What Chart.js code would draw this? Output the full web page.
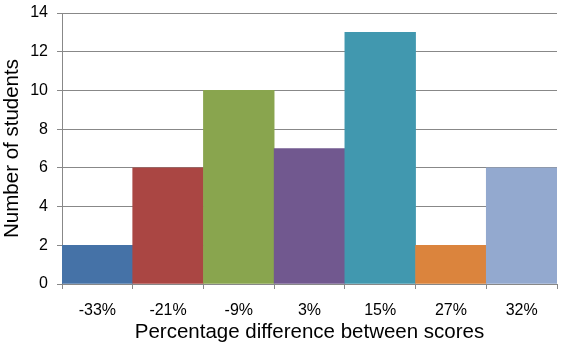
<!DOCTYPE html>
<html>
<head>
<meta charset="utf-8">
<script src="https://cdn.jsdelivr.net/npm/chart.js@4/dist/chart.umd.min.js"></script>
<style>
  html, body { margin: 0; padding: 0; background: #fff; }
  #wrap { width: 565px; height: 351px; }
</style>
</head>
<body>
<div id="wrap"><canvas id="myChart" width="565" height="351"></canvas></div>
<script>
// data
const categories = ['-33%', '-21%', '-9%', '3%', '15%', '27%', '32%'];
const students = [2, 6, 10, 7, 13, 2, 6];
const barColors = ['#4572A7', '#AA4643', '#89A54E', '#71588F', '#4198AF', '#DB843D', '#93A9CF'];
const yTicks = [0, 2, 4, 6, 8, 10, 12, 14];

const font = "'Liberation Sans', Arial, sans-serif";

const ctx = document.getElementById('myChart').getContext('2d');
const myChart = new Chart(ctx, {
  type: 'bar',
  data: {
    labels: categories,
    datasets: [{
      data: students,
      backgroundColor: barColors,
      borderWidth: 0,
      barPercentage: 1,
      categoryPercentage: 1
    }]
  },
  options: {
    responsive: false,
    animation: false,
    layout: { padding: { top: 13, right: 8, left: 0, bottom: 0 } },
    plugins: { legend: { display: false }, tooltip: { enabled: false } },
    scales: {
      x: {
        grid: { display: true, offset: true, drawOnChartArea: false, drawTicks: true, tickLength: 5, color: '#888' },
        border: { display: true, color: '#888' },
        ticks: { color: '#000', font: { family: font, size: 16 }, padding: 12, maxRotation: 0 },
        title: { display: true, text: 'Percentage difference between scores', color: '#000', font: { family: font, size: 20.5 }, padding: { top: 0, bottom: 6 } },
        afterFit: s => { s.height = 67; s.paddingLeft = 0; s.paddingRight = 0; }
      },
      y: {
        min: 0,
        max: 14,
        afterBuildTicks: s => { s.ticks = yTicks.map(v => ({ value: v })); },
        grid: { color: '#888', tickLength: 5 },
        border: { display: true, color: '#888' },
        ticks: { color: '#000', font: { family: font, size: 16 }, padding: 9 },
        title: { display: true, text: 'Number of students', color: '#000', font: { family: font, size: 20.5 }, padding: { top: 0, bottom: 0 } },
        afterFit: s => { s.width = 62; s.paddingTop = 0; s.paddingBottom = 0; }
      }
    }
  }
});
</script>
</body>
</html>
